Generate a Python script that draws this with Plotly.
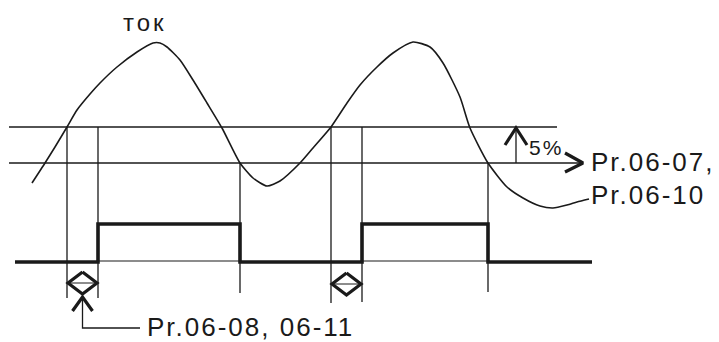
import plotly.graph_objects as go

# current waveform ("ток"), diagram units (x right, y down)
current_x = [32, 45, 55, 67, 77, 90, 100, 117, 137, 153, 160, 167, 180, 193, 207, 222,
             240, 253, 267, 280, 300, 313, 331, 347, 360, 377, 393, 413, 430, 443, 460,
             470, 488, 507, 523, 540, 553, 567, 577, 589]
current_y = [183, 163, 147, 127, 110, 94, 83, 67, 52, 43, 43, 47, 60, 80, 103, 128,
             163, 178, 186, 181, 163, 148, 127, 103, 85, 67, 53, 42, 47, 63, 97,
             128, 163, 187, 198, 206, 208, 205, 202, 199]

# threshold levels: upper = level + 5%, lower = Pr.06-07 / Pr.06-10 level
threshold_y = [127, 163]
threshold_end = [557, 583]
line_start = 9

# crossing markers (x, top, bottom)
marker_x = [67, 98, 240, 331, 362, 488]
marker_top = [127, 127, 163, 127, 127, 163]
marker_bottom = [298, 298, 293, 303, 302, 292]

# output signal
signal_x = [15, 98, 98, 240, 240, 362, 362, 488, 488, 592]
signal_y = [262, 262, 224, 224, 262, 262, 224, 224, 262, 262]

# delay (Pr.06-08 / 06-11) spans
delay_start = [67, 331]
delay_end = [98, 362]
delay_y = [283, 284]

INK = "#1a1a1a"
FONT = "Liberation Sans, Arial, sans-serif"

# the page body has an 8px margin; the axes are set so that the units
# above land on the same pixels as in the reference
PAGE_OFFSET = 8

fig = go.Figure()


def seg(xs, ys, width):
    fig.add_trace(go.Scatter(x=xs, y=ys, mode="lines", hoverinfo="skip",
                             line=dict(color=INK, width=width)))


# thresholds
hx, hy = [], []
for y, x1 in zip(threshold_y, threshold_end):
    hx += [line_start, x1, None]
    hy += [y, y, None]
seg(hx, hy, 1.4)

# vertical markers
vx, vy = [], []
for x, t, b in zip(marker_x, marker_top, marker_bottom):
    vx += [x, x, None]
    vy += [t, b, None]
seg(vx, vy, 1.3)

# thin base line under the pulses
seg([signal_x[1], signal_x[3], None, signal_x[5], signal_x[7]],
    [signal_y[0] - 1, signal_y[0] - 1, None, signal_y[0] - 1, signal_y[0] - 1], 1.2)

# current curve
fig.add_trace(go.Scatter(x=current_x, y=current_y, mode="lines", hoverinfo="skip",
                         line=dict(color=INK, width=1.6, shape="spline", smoothing=0.6)))

# output signal
seg(signal_x, signal_y, 3.6)

# delay double arrows (diamonds)
for x0, x1, y in zip(delay_start, delay_end, delay_y):
    xm = (x0 + x1) / 2
    seg([x0 + 1, x1 - 1], [y, y], 1.0)
    seg([xm, x0 + 1, xm, x1 - 1, xm], [y - 11, y, y + 11, y, y - 11], 3.2)

# pointer to first delay
px = (delay_start[0] + delay_end[0]) / 2
seg([px, px, 140], [delay_y[0] + 13, 328, 328], 1.3)
seg([px - 10, px, px + 10], [delay_y[0] + 28, delay_y[0] + 14, delay_y[0] + 28], 3.2)

# 5% arrow
seg([516, 516], [threshold_y[1], threshold_y[0] + 1], 1.3)
seg([505, 516, 527], [145, threshold_y[0] + 1, 145], 3.2)

# arrow head on the lower threshold
seg([565, threshold_end[1], 565], [153, threshold_y[1], 172], 3.2)


def label(text, x, y, size, spacing):
    fig.add_annotation(x=x, y=y, xref="x", yref="y", showarrow=False,
                       xanchor="left", yanchor="middle",
                       text=f'<span style="letter-spacing:{spacing}px">{text}</span>',
                       font=dict(family=FONT, size=size, color=INK))


label("ток", 121, 22, 24, 3)
label("5%", 527, 147, 21, 2)
label("Pr.06-07,", 589, 162, 26, 2)
label("Pr.06-10", 589, 195, 26, 2)
label("Pr.06-08, 06-11", 145, 327, 26, 2)

fig.update_layout(
    width=719 - PAGE_OFFSET,
    height=342 - PAGE_OFFSET,
    margin=dict(l=0, r=0, t=0, b=0),
    paper_bgcolor="white",
    plot_bgcolor="white",
    showlegend=False,
)
fig.update_xaxes(range=[PAGE_OFFSET, 719], visible=False, fixedrange=True)
fig.update_yaxes(range=[342, PAGE_OFFSET], visible=False, fixedrange=True)

fig.write_html("out.html", config={"displayModeBar": False})
